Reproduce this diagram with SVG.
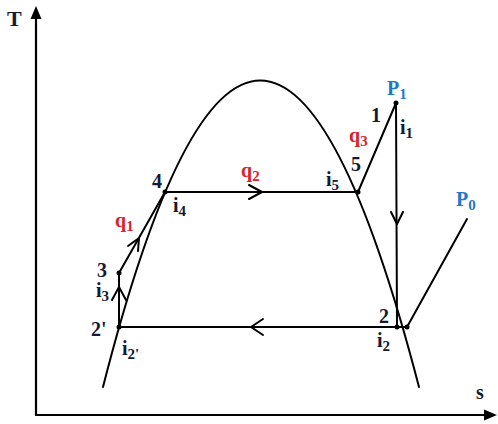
<svg xmlns="http://www.w3.org/2000/svg" width="498" height="424" viewBox="0 0 498 424">
<style>
.ln{fill:none;stroke:#000;stroke-width:2;stroke-linecap:round;stroke-linejoin:round}
.ax{fill:none;stroke:#000;stroke-width:2.2}
.t{font-family:"Liberation Serif",serif;font-weight:bold;font-size:20px;fill:#141a33}
.r{fill:#d8232a}
.b{fill:#1f78c8}
.sub{font-size:15px}
.dot{fill:#000}
</style>
<rect width="498" height="424" fill="#fff"/>
<g id="axes">
<line class="ax" x1="36" y1="415" x2="36" y2="18"/>
<polygon points="36,6 30.5,19 41.5,19" fill="#000"/>
<line class="ax" x1="35" y1="415" x2="486" y2="415"/>
<polygon points="497,415 484,409.5 484,420.5" fill="#000"/>
</g>
<g id="dome">
<path class="ln" d="M103,387 Q259.5,-226 419,387"/>
</g>
<g id="connectors">
<line class="ln" x1="119" y1="327" x2="407" y2="327"/>
<polyline class="ln" points="263,319 251,327 263,335"/>
<line class="ln" x1="165" y1="192" x2="358" y2="192"/>
<polyline class="ln" points="249,185 262,192 249,199"/>
<line class="ln" x1="358" y1="192" x2="396" y2="103"/>
<line class="ln" x1="396" y1="103" x2="397" y2="327"/>
<polyline class="ln" points="391,212 397,224 403,212"/>
<line class="ln" x1="407" y1="327" x2="467" y2="219"/>
<line class="ln" x1="119" y1="327" x2="119" y2="273"/>
<polyline class="ln" points="112,300 119,287 126,300"/>
<line class="ln" x1="119" y1="273" x2="165" y2="192"/>
<polyline class="ln" points="128,246 139,238 138,251"/>
</g>
<g id="n1"><circle class="dot" cx="396" cy="103" r="2.5"/><text class="t" x="371" y="122">1</text><text class="t" x="400" y="134">i<tspan class="sub" dy="4">1</tspan></text><text class="t b" x="387" y="95">P<tspan class="sub" dy="4">1</tspan></text></g>
<g id="n5"><circle class="dot" cx="358" cy="192" r="2.5"/><text class="t" x="351" y="171">5</text><text class="t" x="326" y="186">i<tspan class="sub" dy="4">5</tspan></text><text class="t r" x="349" y="142">q<tspan class="sub" dy="4">3</tspan></text></g>
<g id="n4"><circle class="dot" cx="165" cy="192" r="2.5"/><text class="t" x="152" y="188">4</text><text class="t" x="173" y="212">i<tspan class="sub" dy="4">4</tspan></text><text class="t r" x="241" y="177">q<tspan class="sub" dy="4">2</tspan></text><text class="t r" x="115" y="227">q<tspan class="sub" dy="4">1</tspan></text></g>
<g id="n3"><circle class="dot" cx="119" cy="273" r="2.5"/><text class="t" x="97" y="277">3</text><text class="t" x="96" y="297">i<tspan class="sub" dy="4">3</tspan></text></g>
<g id="n2p"><circle class="dot" cx="119" cy="327" r="2.5"/><text class="t" x="91" y="336">2'</text><text class="t" x="122" y="355">i<tspan class="sub" dy="4">2'</tspan></text></g>
<g id="n2"><circle class="dot" cx="397" cy="327" r="2.5"/><circle class="dot" cx="407" cy="327" r="2.5"/><text class="t" x="379" y="323">2</text><text class="t" x="377" y="347">i<tspan class="sub" dy="4">2</tspan></text><text class="t b" x="456" y="206">P<tspan class="sub" dy="4">0</tspan></text></g>
<g id="labels"><text class="t" x="7" y="26" style="font-size:22px">T</text><text class="t" x="476" y="399">s</text></g>
</svg>
